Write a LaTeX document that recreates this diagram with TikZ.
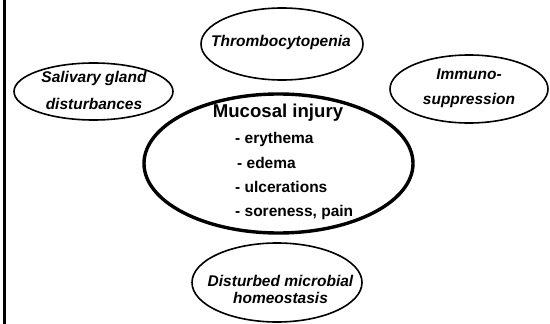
\documentclass[tikz,border=0pt]{standalone}
\usepackage{fontspec}
\setmainfont{Liberation Sans}
\usetikzlibrary{shapes.geometric}
\begin{document}
\begin{tikzpicture}[x=1pt,y=-1pt,
  oval/.style={draw,ellipse,line width=1.6pt,inner sep=0pt},
  lbl/.style={font=\fontsize{15.5}{17}\selectfont\bfseries\itshape,align=center,inner sep=0pt},
  item/.style={font=\fontsize{15.5}{17}\selectfont\bfseries,anchor=west,inner sep=0pt}]
\useasboundingbox (0,0) rectangle (550,324);
% left border
\coordinate (ltop) at (4.5,0);
\coordinate (lbot) at (4.5,324);
\draw[line width=2.6pt] (ltop) -- (lbot);
% ellipses
\node[oval,minimum width=162pt,minimum height=72pt] (thr) at (282,44) {};
\node[lbl] (thrt) at (281,42) {Thrombocytopenia};
\node[oval,minimum width=159pt,minimum height=57pt] (sal) at (93.5,91.5) {};
\node[lbl,font=\fontsize{15.5}{27}\selectfont\bfseries\itshape] (salt) at (94,90) {Salivary gland\\disturbances};
\node[oval,minimum width=158pt,minimum height=68pt] (imm) at (469,89) {};
\node[lbl,font=\fontsize{15.5}{25}\selectfont\bfseries\itshape] (immt) at (469,88.5) {Immuno-\\suppression};
\node[oval,line width=3.4pt,minimum width=269pt,minimum height=139pt] (muc) at (278.5,163.5) {};
\node[inner sep=0pt,font=\fontsize{18.6}{20}\selectfont\bfseries] (muct) at (278,113) {Mucosal injury};
\node[item] (i1) at (235,139) {- erythema};
\node[item] (i2) at (237,163) {- edema};
\node[item] (i3) at (235,187) {- ulcerations};
\node[item] (i4) at (235,212) {- soreness, pain};
\node[oval,minimum width=170pt,minimum height=79pt] (dis) at (277,282.5) {};
\node[lbl] (dist) at (280.5,289) {Disturbed microbial\\homeostasis};
\end{tikzpicture}
\end{document}
